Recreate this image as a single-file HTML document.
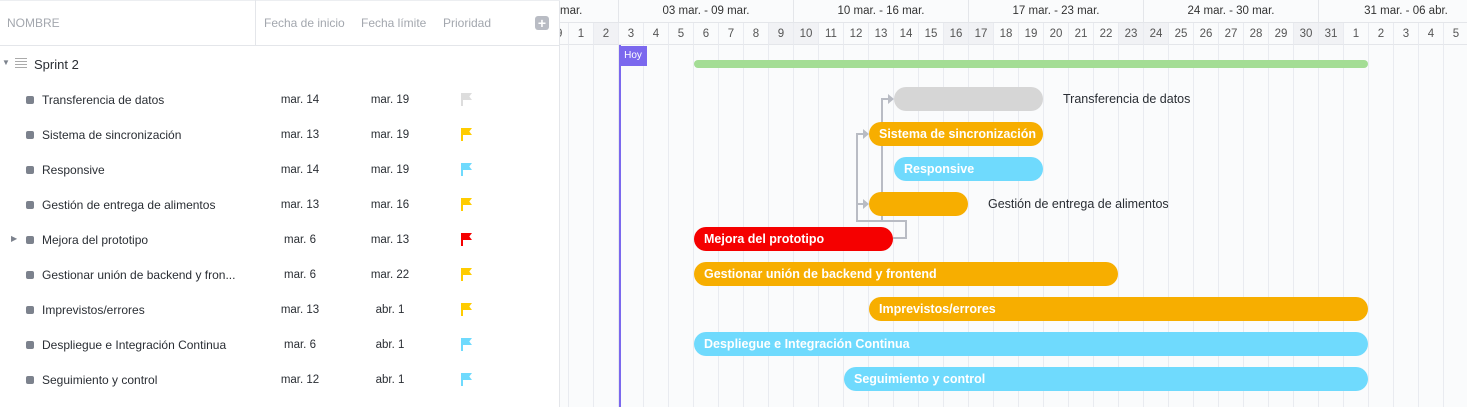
<!DOCTYPE html>
<html><head><meta charset="utf-8"><style>
*{margin:0;padding:0;box-sizing:border-box}
body{width:1467px;height:407px;overflow:hidden;background:#fff;font-family:"Liberation Sans","DejaVu Sans",sans-serif;position:relative}
.a{position:absolute}
.lh{color:#a3a7ae;font-size:12px;top:16px}
.row{position:absolute;left:0;width:560px;height:35px;font-size:12px;color:#2a2e34}
.dot{position:absolute;left:26px;top:13px;width:8px;height:8px;border-radius:2px;background:#7c828d}
.nm{position:absolute;left:42px;top:10px}
.d1{position:absolute;left:260px;width:80px;text-align:center;top:11px;font-size:11.5px}
.d2{position:absolute;left:350px;width:80px;text-align:center;top:11px;font-size:11.5px}
.fl{position:absolute;left:461px;top:10px;width:2px;height:13px}
.fl i{position:absolute;left:2px;top:0;width:9px;height:7px;clip-path:polygon(0 0,100% 0,70% 50%,100% 100%,0 100%)}
.col{position:absolute;top:23px;height:384px;width:25px;border-left:1px solid #e9ebf0}
.dl{position:absolute;top:23px;height:22px;width:25px;text-align:center;font-size:11.5px;color:#555;line-height:22px;border-left:1px solid #e9ebf0;border-bottom:1px solid #e4e6ea}
.sh{background:#f1f2f5}
.wk{position:absolute;top:0;height:23px;width:175px;text-align:center;font-size:11.5px;color:#333;line-height:23px;border-left:1px solid #e4e6ea}
.bar{position:absolute;height:24px;border-radius:12px;color:#fff;font-weight:bold;font-size:12.5px;line-height:24px;padding-left:10px;white-space:nowrap}
.ext{position:absolute;font-size:12.5px;color:#2a2e34}
</style></head><body>
<div class="a" style="left:560px;top:0;width:907px;height:407px;background:#fafbfc;overflow:hidden" id="tl">
<div class="a" style="left:0;top:0;width:907px;height:23px;background:#fafbfc;border-bottom:1px solid #e4e6ea"></div>
<span class="a" style="left:0;top:5px;font-size:11.5px;color:#333">mar.</span>
<div class="wk" style="left:58px">03 mar. - 09 mar.</div>
<div class="wk" style="left:233px">10 mar. - 16 mar.</div>
<div class="wk" style="left:408px">17 mar. - 23 mar.</div>
<div class="wk" style="left:583px">24 mar. - 30 mar.</div>
<div class="wk" style="left:758px">31 mar. - 06 abr.</div>
<div class="col" style="left:-17px"></div><div class="dl" style="left:-17px">29</div>
<div class="col" style="left:8px"></div><div class="dl" style="left:8px">1</div>
<div class="col" style="left:33px"></div><div class="dl sh" style="left:33px">2</div>
<div class="col" style="left:58px"></div><div class="dl" style="left:58px">3</div>
<div class="col" style="left:83px"></div><div class="dl" style="left:83px">4</div>
<div class="col" style="left:108px"></div><div class="dl" style="left:108px">5</div>
<div class="col" style="left:133px"></div><div class="dl" style="left:133px">6</div>
<div class="col" style="left:158px"></div><div class="dl" style="left:158px">7</div>
<div class="col" style="left:183px"></div><div class="dl" style="left:183px">8</div>
<div class="col" style="left:208px"></div><div class="dl sh" style="left:208px">9</div>
<div class="col" style="left:233px"></div><div class="dl sh" style="left:233px">10</div>
<div class="col" style="left:258px"></div><div class="dl" style="left:258px">11</div>
<div class="col" style="left:283px"></div><div class="dl" style="left:283px">12</div>
<div class="col" style="left:308px"></div><div class="dl" style="left:308px">13</div>
<div class="col" style="left:333px"></div><div class="dl" style="left:333px">14</div>
<div class="col" style="left:358px"></div><div class="dl" style="left:358px">15</div>
<div class="col" style="left:383px"></div><div class="dl sh" style="left:383px">16</div>
<div class="col" style="left:408px"></div><div class="dl sh" style="left:408px">17</div>
<div class="col" style="left:433px"></div><div class="dl" style="left:433px">18</div>
<div class="col" style="left:458px"></div><div class="dl" style="left:458px">19</div>
<div class="col" style="left:483px"></div><div class="dl" style="left:483px">20</div>
<div class="col" style="left:508px"></div><div class="dl" style="left:508px">21</div>
<div class="col" style="left:533px"></div><div class="dl" style="left:533px">22</div>
<div class="col" style="left:558px"></div><div class="dl sh" style="left:558px">23</div>
<div class="col" style="left:583px"></div><div class="dl sh" style="left:583px">24</div>
<div class="col" style="left:608px"></div><div class="dl" style="left:608px">25</div>
<div class="col" style="left:633px"></div><div class="dl" style="left:633px">26</div>
<div class="col" style="left:658px"></div><div class="dl" style="left:658px">27</div>
<div class="col" style="left:683px"></div><div class="dl" style="left:683px">28</div>
<div class="col" style="left:708px"></div><div class="dl" style="left:708px">29</div>
<div class="col" style="left:733px"></div><div class="dl sh" style="left:733px">30</div>
<div class="col" style="left:758px"></div><div class="dl sh" style="left:758px">31</div>
<div class="col" style="left:783px"></div><div class="dl" style="left:783px">1</div>
<div class="col" style="left:808px"></div><div class="dl" style="left:808px">2</div>
<div class="col" style="left:833px"></div><div class="dl" style="left:833px">3</div>
<div class="col" style="left:858px"></div><div class="dl" style="left:858px">4</div>
<div class="col" style="left:883px"></div><div class="dl" style="left:883px">5</div>
</div>
<div class="a" style="left:619px;top:45px;width:2px;height:362px;background:#7b68ee"></div>
<div class="a" style="left:619px;top:46px;width:28px;height:20px;background:#7b68ee;color:#fff;font-size:10px;line-height:20px;text-align:center">Hoy</div>
<div class="a" style="left:694px;top:60px;width:674px;height:8px;border-radius:4px;background:#a4dd95"></div>
<svg class="a" style="left:0;top:0" width="1467" height="407">
<g fill="none" stroke="#b9bcc4" stroke-width="2">
<path d="M893 238 H906 V221 H857 V134 H864"/>
<path d="M857 204 H864"/>
<path d="M882 221 V99 H889"/>
</g>
<g fill="#b9bcc4">
<path d="M863 129 L869 134 L863 139Z"/><path d="M863 199 L869 204 L863 209Z"/><path d="M888 94 L894 99 L888 104Z"/>
</g>
</svg>
<div class="bar" style="left:894px;top:87px;width:149px;background:#d6d6d6"></div>
<div class="ext" style="left:1063px;top:92px">Transferencia de datos</div>
<div class="bar" style="left:869px;top:122px;width:174px;background:#f7ae00">Sistema de sincronización</div>
<div class="bar" style="left:894px;top:157px;width:149px;background:#6fdafd">Responsive</div>
<div class="bar" style="left:869px;top:192px;width:99px;background:#f7ae00"></div>
<div class="ext" style="left:988px;top:197px">Gestión de entrega de alimentos</div>
<div class="bar" style="left:694px;top:227px;width:199px;background:#f50000">Mejora del prototipo</div>
<div class="bar" style="left:694px;top:262px;width:424px;background:#f7ae00">Gestionar unión de backend y frontend</div>
<div class="bar" style="left:869px;top:297px;width:499px;background:#f7ae00">Imprevistos/errores</div>
<div class="bar" style="left:694px;top:332px;width:674px;background:#6fdafd">Despliegue e Integración Continua</div>
<div class="bar" style="left:844px;top:367px;width:524px;background:#6fdafd">Seguimiento y control</div>
<div class="a" style="left:0;top:0;width:560px;height:407px;background:#fff;border-right:1px solid #e4e6ea">
<div class="a" style="left:0;top:0;width:560px;height:46px;border-top:1px solid #eceef1;border-bottom:1px solid #e4e6ea"></div>
<div class="a" style="left:255px;top:0;width:1px;height:46px;background:#e4e6ea"></div>
<span class="a lh" style="left:7px">NOMBRE</span>
<span class="a lh" style="left:264px">Fecha de inicio</span>
<span class="a lh" style="left:361px">Fecha límite</span>
<span class="a lh" style="left:443px">Prioridad</span>
<div class="a" style="left:535px;top:16px;width:14px;height:14px;border-radius:3px;background:#b9bcc4;color:#fff;font-size:14px;line-height:14px;text-align:center;font-weight:bold">+</div>
<span class="a" style="left:2px;top:58px;font-size:8px;color:#7c828d">▼</span>
<div class="a" style="left:15px;top:58px;width:12px;height:1px;background:#aaa;box-shadow:0 3px 0 #aaa,0 6px 0 #aaa,0 9px 0 #aaa"></div>
<span class="a" style="left:34px;top:57px;font-size:13px;color:#2a2e34">Sprint 2</span>
<div class="row" style="top:83px"><div class="dot"></div><span class="nm">Transferencia de datos</span><span class="d1">mar. 14</span><span class="d2">mar. 19</span><div class="fl" style="background:#ddd"><i style="background:#ddd"></i></div></div>
<div class="row" style="top:118px"><div class="dot"></div><span class="nm">Sistema de sincronización</span><span class="d1">mar. 13</span><span class="d2">mar. 19</span><div class="fl" style="background:#ffcc00"><i style="background:#ffcc00"></i></div></div>
<div class="row" style="top:153px"><div class="dot"></div><span class="nm">Responsive</span><span class="d1">mar. 14</span><span class="d2">mar. 19</span><div class="fl" style="background:#6fdafd"><i style="background:#6fdafd"></i></div></div>
<div class="row" style="top:188px"><div class="dot"></div><span class="nm">Gestión de entrega de alimentos</span><span class="d1">mar. 13</span><span class="d2">mar. 16</span><div class="fl" style="background:#ffcc00"><i style="background:#ffcc00"></i></div></div>
<div class="row" style="top:223px"><span class="a" style="left:11px;top:11px;font-size:8px;color:#7c828d">▶</span><div class="dot"></div><span class="nm">Mejora del prototipo</span><span class="d1">mar. 6</span><span class="d2">mar. 13</span><div class="fl" style="background:#f50000"><i style="background:#f50000"></i></div></div>
<div class="row" style="top:258px"><div class="dot"></div><span class="nm">Gestionar unión de backend y fron...</span><span class="d1">mar. 6</span><span class="d2">mar. 22</span><div class="fl" style="background:#ffcc00"><i style="background:#ffcc00"></i></div></div>
<div class="row" style="top:293px"><div class="dot"></div><span class="nm">Imprevistos/errores</span><span class="d1">mar. 13</span><span class="d2">abr. 1</span><div class="fl" style="background:#ffcc00"><i style="background:#ffcc00"></i></div></div>
<div class="row" style="top:328px"><div class="dot"></div><span class="nm">Despliegue e Integración Continua</span><span class="d1">mar. 6</span><span class="d2">abr. 1</span><div class="fl" style="background:#6fdafd"><i style="background:#6fdafd"></i></div></div>
<div class="row" style="top:363px"><div class="dot"></div><span class="nm">Seguimiento y control</span><span class="d1">mar. 12</span><span class="d2">abr. 1</span><div class="fl" style="background:#6fdafd"><i style="background:#6fdafd"></i></div></div>
</div>
</body></html>
